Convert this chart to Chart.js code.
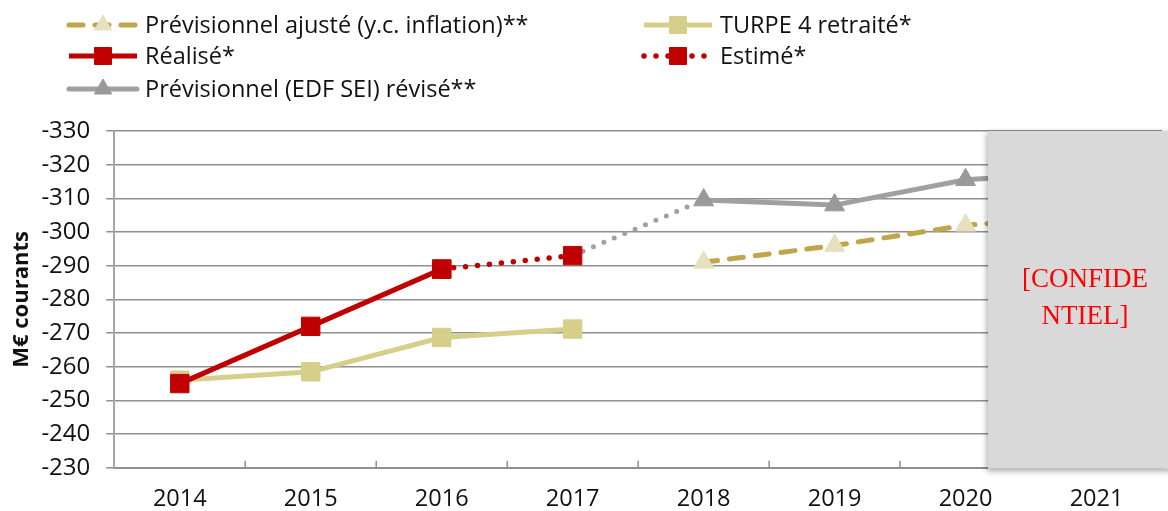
<!DOCTYPE html>
<html>
<head>
<meta charset="utf-8">
<script src="https://cdn.jsdelivr.net/npm/chart.js@4"></script>
<style>
  html, body { margin: 0; padding: 0; background: #fff; overflow: hidden; }
  #wrap { width: 1176px; height: 511px; }
</style>
</head>
<body>
<div id="wrap"><canvas id="chart" width="1176" height="511"></canvas></div>
<script>
const years = ['2014', '2015', '2016', '2017', '2018', '2019', '2020', '2021'];
const yTicks = [-330, -320, -310, -300, -290, -280, -270, -260, -250, -240, -230];

const previsionnelAjuste = [null, null, null, null, -291, -296, -302, -305];
const realise = [-255, -272, -289, null, null, null, null, null];
const previsionnelRevise = [null, null, null, -293, -309.5, -308, -315.5, -318];
const turpe4 = [-256, -258.5, -268.7, -271.2, null, null, null, null];
const estime = [null, null, -289, -293, null, null, null, null];

const FONT = "'Open Sans', 'Noto Sans', sans-serif";
const RED = '#C00000';
const GREY = '#A0A0A0';
const GOLD = '#BFA64A';
const PALE = '#E6E0BE';
const KHAKI = '#D6CF8A';

// x-axis tick marks sit between categories and point up into the plot
const innerTicks = {
  id: 'innerTicks',
  afterDatasetsDraw(chart) {
    const { ctx, scales: { x }, chartArea } = chart;
    ctx.save();
    ctx.strokeStyle = '#8f8f8f';
    ctx.lineWidth = 1.5;
    for (let i = 0; i < years.length - 1; i++) {
      const px = (x.getPixelForValue(i) + x.getPixelForValue(i + 1)) / 2;
      ctx.beginPath();
      ctx.moveTo(px, chartArea.bottom);
      ctx.lineTo(px, chartArea.bottom - 7);
      ctx.stroke();
    }
    ctx.restore();
  }
};

// grey box hiding the last year
const confidentiel = {
  id: 'confidentiel',
  afterDraw(chart) {
    const { ctx, chartArea } = chart;
    ctx.save();
    ctx.shadowColor = 'rgba(0,0,0,0.35)';
    ctx.shadowBlur = 6;
    ctx.shadowOffsetX = -1;
    ctx.shadowOffsetY = 2;
    ctx.fillStyle = '#D9D9D9';
    ctx.fillRect(988, chartArea.top, 200, chartArea.bottom - chartArea.top + 1);
    ctx.restore();
    ctx.save();
    ctx.fillStyle = '#FF0000';
    ctx.font = "27px 'Liberation Serif', serif";
    ctx.textAlign = 'center';
    ctx.fillText('[CONFIDE', 1085, 287);
    ctx.fillText('NTIEL]', 1085, 324);
    ctx.restore();
  }
};

const legendItems = [
  { ds: 0, x: 67, y: 25 },
  { ds: 3, x: 642, y: 25 },
  { ds: 1, x: 67, y: 56 },
  { ds: 4, x: 642, y: 56 },
  { ds: 2, x: 67, y: 89 }
];

const drawnLegend = {
  id: 'drawnLegend',
  afterDraw(chart) {
    const { ctx } = chart;
    ctx.save();
    legendItems.forEach(item => {
      const ds = chart.data.datasets[item.ds];
      const w = 72;
      ctx.beginPath();
      ctx.setLineDash(ds.borderDash || []);
      ctx.lineCap = ds.borderCapStyle || 'butt';
      ctx.lineWidth = ds.borderWidth;
      ctx.strokeStyle = ds.borderColor;
      ctx.moveTo(item.x + 2, item.y);
      ctx.lineTo(item.x + w - 2, item.y);
      ctx.stroke();
      ctx.setLineDash([]);
      ctx.lineCap = 'butt';
      ctx.fillStyle = ds.pointBackgroundColor;
      ctx.strokeStyle = ds.pointBorderColor;
      ctx.lineWidth = 1;
      Chart.helpers.drawPoint(ctx, {
        pointStyle: ds.pointStyle,
        radius: ds.legendRadius,
        borderWidth: 1
      }, item.x + w / 2, item.y);
      ctx.fillStyle = '#111';
      ctx.font = '23.5px ' + FONT;
      ctx.textBaseline = 'middle';
      ctx.fillText(ds.label, item.x + w + 6, item.y + 1);
    });
    ctx.restore();
  }
};

new Chart(document.getElementById('chart'), {
  type: 'line',
  data: {
    labels: years,
    datasets: [
      {
        label: 'Prévisionnel ajusté (y.c. inflation)**',
        data: previsionnelAjuste,
        borderColor: GOLD,
        borderWidth: 5,
        borderDash: [14, 12],
        borderCapStyle: 'round',
        pointStyle: 'triangle',
        pointRadius: 11.5,
        legendRadius: 10,
        pointBackgroundColor: PALE,
        pointBorderColor: PALE,
        pointBorderWidth: 1,
        order: 5
      },
      {
        label: 'Réalisé*',
        data: realise,
        borderColor: RED,
        borderWidth: 5,
        pointStyle: 'rect',
        pointRadius: 13,
        legendRadius: 12,
        pointBackgroundColor: RED,
        pointBorderColor: RED,
        pointBorderWidth: 1,
        order: 0
      },
      {
        label: 'Prévisionnel (EDF SEI) révisé**',
        data: previsionnelRevise,
        borderColor: GREY,
        borderWidth: 5,
        borderCapStyle: 'round',
        pointStyle: 'triangle',
        pointRadius: [0, 0, 0, 0, 11.5, 11.5, 11.5, 11.5],
        legendRadius: 10,
        pointBackgroundColor: '#999999',
        pointBorderColor: '#999999',
        pointBorderWidth: 1,
        segment: {
          borderDash: c => c.p0DataIndex === 3 ? [0, 11.3] : undefined
        },
        order: 4
      },
      {
        label: 'TURPE 4 retraité*',
        data: turpe4,
        borderColor: KHAKI,
        borderWidth: 5,
        pointStyle: 'rect',
        pointRadius: 13,
        legendRadius: 12,
        pointBackgroundColor: KHAKI,
        pointBorderColor: KHAKI,
        pointBorderWidth: 1,
        order: 3
      },
      {
        label: 'Estimé*',
        data: estime,
        borderColor: RED,
        borderWidth: 5.5,
        borderDash: [0, 12],
        borderCapStyle: 'round',
        pointStyle: 'rect',
        pointRadius: 13,
        legendRadius: 12,
        pointBackgroundColor: RED,
        pointBorderColor: RED,
        pointBorderWidth: 1,
        order: 1
      }
    ]
  },
  options: {
    responsive: false,
    animation: false,
    spanGaps: false,
    layout: { padding: { top: 131, left: 1, right: 0, bottom: -19 } },
    plugins: {
      legend: { display: false },
      tooltip: { enabled: false }
    },
    scales: {
      x: {
        offset: true,
        grid: { display: false, drawTicks: false },
        border: { display: true, color: '#8f8f8f', width: 2 },
        ticks: { color: '#111', padding: 17, font: { family: FONT, size: 23.5 } }
      },
      y: {
        reverse: true,
        min: -330,
        max: -230,
        afterBuildTicks: scale => { scale.ticks = yTicks.map(v => ({ value: v })); },
        grid: { color: '#8f8f8f', lineWidth: 1.5, tickLength: 8 },
        border: { display: true, color: '#a6a6a6', width: 2 },
        ticks: { color: '#111', padding: 16, font: { family: FONT, size: 24 } },
        title: {
          display: true,
          text: 'M€ courants',
          color: '#111',
          padding: { top: 8, bottom: -10 },
          font: { family: FONT, size: 22, weight: 'bold' }
        }
      }
    }
  },
  plugins: [innerTicks, drawnLegend, confidentiel]
});
</script>
</body>
</html>
